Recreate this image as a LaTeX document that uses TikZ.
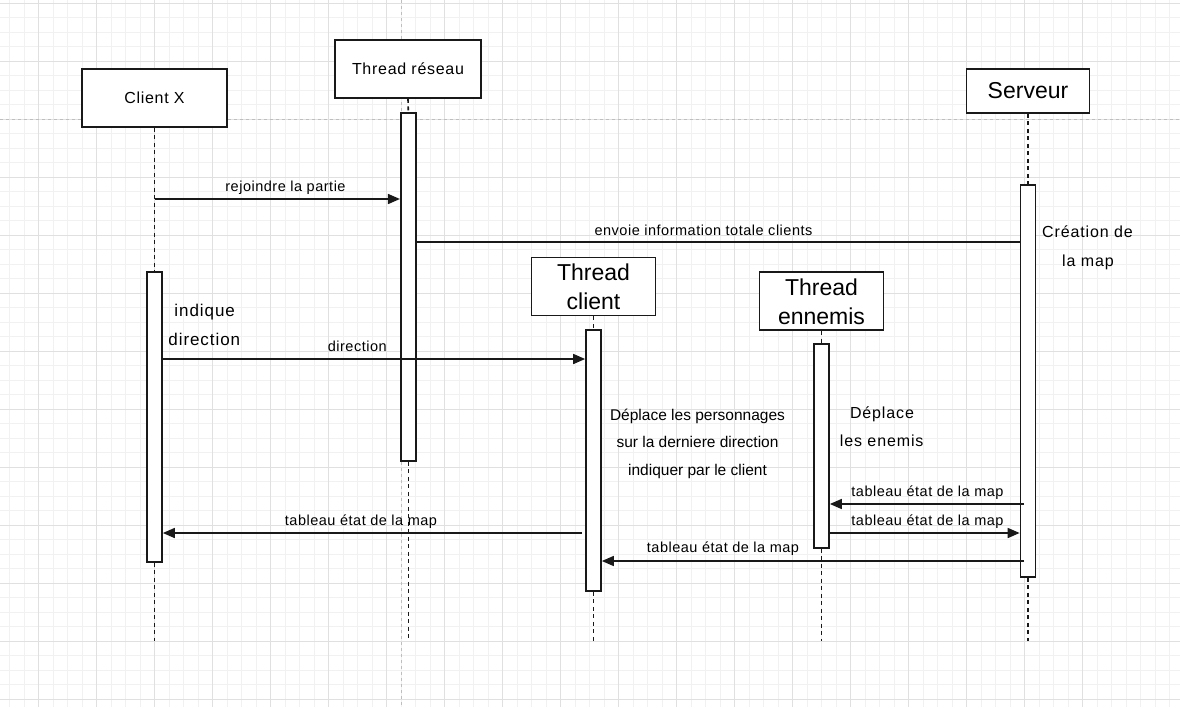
\documentclass[tikz,border=0pt]{standalone}
\usepackage{fontspec}
\setmainfont{Liberation Sans}
\newfontfamily\fmsg[LetterSpace=3.5]{Liberation Sans}
\newfontfamily\fhead[LetterSpace=4.5]{Liberation Sans}
\newfontfamily\fnote[LetterSpace=5.5]{Liberation Sans}
\usetikzlibrary{arrows.meta}
\definecolor{gmaj}{RGB}{224,224,224}
\definecolor{gmin}{RGB}{241,241,241}
\definecolor{gdash}{RGB}{190,190,190}
\definecolor{ink}{RGB}{25,25,25}
\begin{document}
\begin{tikzpicture}[x=1pt,y=-1pt,
  box/.style={draw=ink, fill=white, line width=1.7pt, inner sep=0pt},
  headsmall/.style={box, font=\fhead\fontsize{16}{19}\selectfont},
  headbig/.style={box, align=center, font=\fontsize{23}{29}\selectfont},
  bar/.style={draw=ink, fill=white, line width=1.7pt, minimum width=15pt, inner sep=0pt},
  life/.style={draw=ink, line width=1.6pt, dash pattern=on 4pt off 3.5pt},
  msg/.style={draw=ink, line width=1.6pt, -{Triangle[length=12pt,width=10pt]}},
  plainmsg/.style={draw=ink, line width=1.6pt},
  lbl/.style={font=\fmsg\fontsize{14.5}{17}\selectfont, anchor=base, inner sep=0pt},
  notesp/.style={font=\fnote\fontsize{16}{19}\selectfont, anchor=base, inner sep=0pt},
  notebig/.style={font=\fnote\fontsize{17}{20}\selectfont, anchor=base, inner sep=0pt},
  noteplain/.style={font=\fontsize{15.5}{18}\selectfont, anchor=base, inner sep=0pt},
  gridmin/.style={draw=gmin, line width=1pt},
  gridmaj/.style={draw=gmaj, line width=1pt},
  guide/.style={draw=gdash, line width=1pt, dash pattern=on 3pt off 3pt}
]
\useasboundingbox[fill=white] (0,0) rectangle (1180,707);
% background grid
\foreach \k in {-2,...,78} {
  \pgfmathsetmacro\xx{38.5+14.5*\k}
  \draw[gridmin] (\xx,0) -- (\xx,707);
}
\foreach \k in {0,...,48} {
  \pgfmathsetmacro\yy{3.3+14.5*\k}
  \draw[gridmin] (0,\yy) -- (1180,\yy);
}
\foreach \k in {0,...,19} {
  \pgfmathsetmacro\xx{-19.5+58*\k}
  \draw[gridmaj] (\xx,0) -- (\xx,707);
}
\foreach \k in {0,...,12} {
  \pgfmathsetmacro\yy{3.3+58*\k}
  \draw[gridmaj] (0,\yy) -- (1180,\yy);
}
\draw[guide] (0,119.3) -- (1180,119.3);
\draw[guide] (401,0) -- (401,707);

% heads
\node[headsmall, minimum width=145pt, minimum height=58pt] (cx) at (154.5,98) {Client X};
\node[headsmall, minimum width=146pt, minimum height=58pt] (tr) at (408,69) {Thread réseau};
\node[box, minimum width=123pt, minimum height=44pt, font=\fontsize{23}{27}\selectfont] (sv) at (1028,91) {Serveur};
\node[headbig, minimum width=124pt, minimum height=58pt] (tc) at (593.5,286.5) {Thread\\client};
\node[headbig, minimum width=124pt, minimum height=58pt] (te) at (821.5,301.3) {Thread\\ennemis};

% end points of lifelines
\coordinate (cxe) at (154.5,641);
\coordinate (tre) at (408.3,641);
\coordinate (sve) at (1028,641);
\coordinate (tce) at (593.5,641);
\coordinate (tee) at (821.5,641);

% activation bars
\node[bar, minimum height=290pt] (cxa) at (154.5,417) {};
\node[bar, minimum height=348pt] (tra) at (408.3,287) {};
\node[bar, minimum height=392pt] (sva) at (1028,381) {};
\node[bar, minimum height=261pt] (tca) at (593.5,460.5) {};
\node[bar, minimum height=204pt] (tea) at (821.5,446) {};

% lifelines
\draw[life] (cx.south) -- (cxa.north);
\draw[life] (cxa.south) -- (cxe);
\draw[life] (tr.south) -- (tra.north);
\draw[life] (tra.south) -- (tre);
\draw[life] (sv.south) -- (sva.north);
\draw[life] (sva.south) -- (sve);
\draw[life] (tc.south) -- (tca.north);
\draw[life] (tca.south) -- (tce);
\draw[life] (te.south) -- (tea.north);
\draw[life] (tea.south) -- (tee);

% messages
\coordinate (m1) at (154.5,199);
\draw[msg] (m1) -- (m1 -| tra.west);
\node[lbl] (l1) at (285.5,191.5) {rejoindre la partie};

\coordinate (m2) at (416,242);
\draw[plainmsg] (m2) -- (m2 -| sva.west);
\node[lbl] (l2) at (703.5,235.5) {envoie information totale clients};

\coordinate (m3) at (162,359);
\draw[msg] (m3) -- (m3 -| tca.west);
\node[lbl] (l3) at (357.3,351.5) {direction};

\coordinate (m4) at (1024,504);
\draw[msg] (m4) -- (m4 -| tea.east);
\node[lbl] (l4) at (927.5,496.5) {tableau état de la map};

\coordinate (m5) at (829,533);
\draw[msg] (m5) -- (m5 -| sva.west);
\node[lbl] (l5) at (927.5,525.5) {tableau état de la map};

\coordinate (m6) at (582,533);
\draw[msg] (m6) -- (m6 -| cxa.east);
\node[lbl] (l6) at (361,525.5) {tableau état de la map};

\coordinate (m7) at (1024,561);
\draw[msg] (m7) -- (m7 -| tca.east);
\node[lbl] (l7) at (723,552.7) {tableau état de la map};

% notes
\node[notesp] (n1a) at (1087.5,237.3) {Création de};
\node[notesp] (n1b) at (1088,266) {la map};
\node[notebig] (n2a) at (204.7,316.7) {indique};
\node[notebig] (n2b) at (204.3,345.7) {direction};
\node[noteplain] (n3a) at (697.5,420) {Déplace les personnages};
\node[noteplain] (n3b) at (697.5,447.5) {sur la derniere direction};
\node[noteplain] (n3c) at (697.5,475) {indiquer par le client};
\node[notesp] (n4a) at (882,418.3) {Déplace};
\node[notesp] (n4b) at (881.7,446.7) {les enemis};
\end{tikzpicture}
\end{document}
